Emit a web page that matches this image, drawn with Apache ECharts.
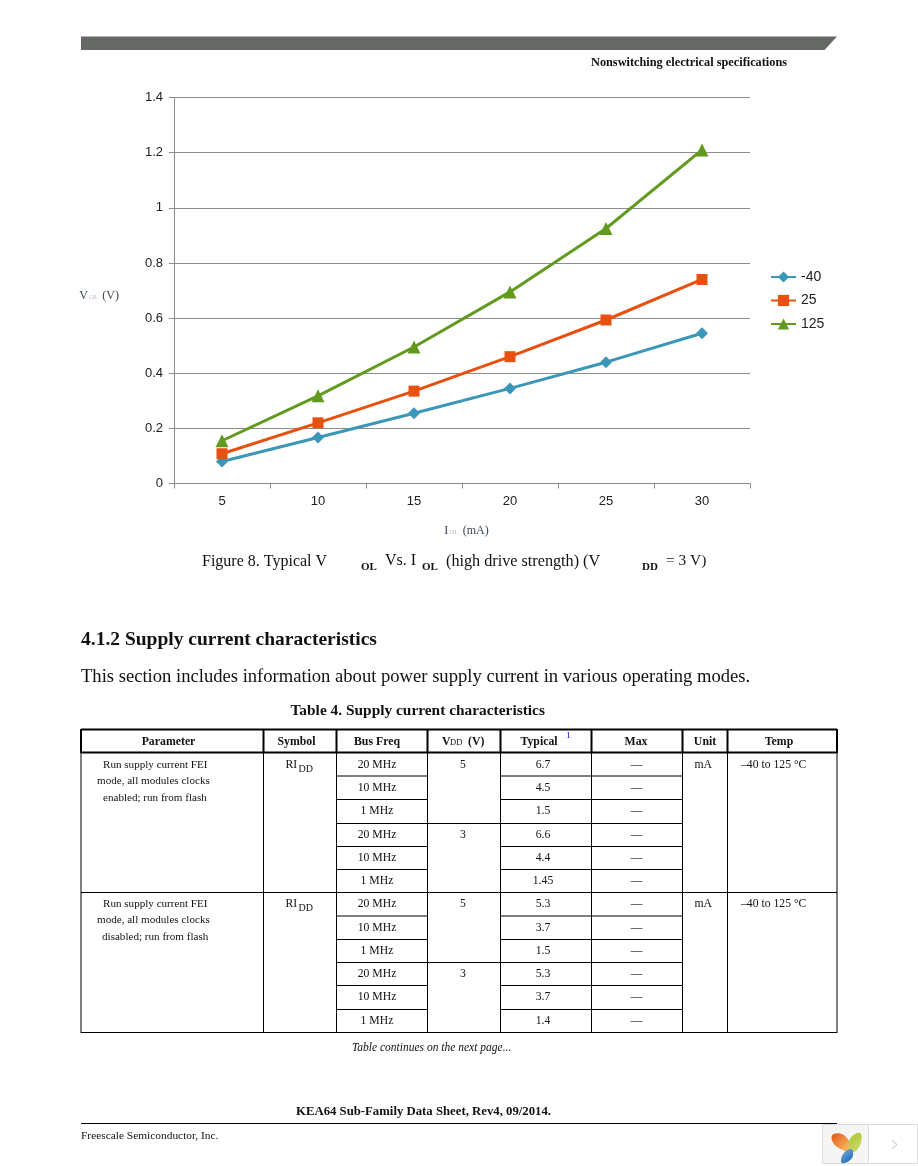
<!DOCTYPE html>
<html>
<head>
<meta charset="utf-8">
<title>Typical VOL vs IOL</title>
<style>
  html, body { margin: 0; padding: 0; background: #fff; }
  #chart { width: 918px; height: 1166px; }
</style>
<script src="https://cdn.jsdelivr.net/npm/echarts@6/dist/echarts.min.js"></script>
</head>
<body>
<div id="chart"></div>
<script>
// chart data
const iolValues = ['5', '10', '15', '20', '25', '30'];
const seriesNames = ['-40', '25', '125'];
const tempMinus40 = [0.08, 0.167, 0.255, 0.345, 0.44, 0.545];
const temp25 = [0.108, 0.22, 0.335, 0.46, 0.593, 0.74];
const temp125 = [0.155, 0.318, 0.495, 0.695, 0.925, 1.21];

// table text
const tableHeaders = ['Parameter', 'Symbol', 'Bus Freq', 'Typical', 'Max', 'Unit', 'Temp'];
const busFreq = ['20 MHz', '10 MHz', '1 MHz', '20 MHz', '10 MHz', '1 MHz', '20 MHz', '10 MHz', '1 MHz', '20 MHz', '10 MHz', '1 MHz'];
const typical = ['6.7', '4.5', '1.5', '6.6', '4.4', '1.45', '5.3', '3.7', '1.5', '5.3', '3.7', '1.4'];
const paramEnabled = ['Run supply current FEI', 'mode, all modules clocks', 'enabled; run from flash'];
const paramDisabled = ['Run supply current FEI', 'mode, all modules clocks', 'disabled; run from flash'];

// page layout
const colX = [81, 263.5, 336.5, 427.5, 500.5, 591.5, 682.5, 727.5, 837];
const rowY = [752.5, 776, 799.5, 823.5, 846.5, 869.5, 892.5, 916, 939.5, 962.5, 985.5, 1009.5, 1032.5];
const headerCenters = [168.5, 296.5, 377, 539, 636, 705, 779];
const rowCenters = [764, 787, 810, 834, 857, 880, 903, 927, 950, 973, 996, 1020];
const serif = '"Liberation Serif", serif';
const sans = '"Liberation Sans", sans-serif';

const graphics = [];

function txt(x, y, text, size, opts) {
    const o = opts || {};
    graphics.push({
        type: 'text',
        silent: true,
        style: {
            x: x, y: y + 1, text: text,
            font: (o.italic ? 'italic ' : '') + (o.bold ? 'bold ' : '') + size + 'px ' + serif,
            fill: o.color || '#111',
            textAlign: o.align || 'left',
            textVerticalAlign: 'middle'
        }
    });
}

function line(x1, y1, x2, y2, w, color) {
    graphics.push({
        type: 'line',
        silent: true,
        shape: { x1: x1, y1: y1, x2: x2, y2: y2 },
        style: { stroke: color || '#000', lineWidth: w || 1 }
    });
}

function leaf(points, c1, c2) {
    graphics.push({
        type: 'polygon',
        silent: true,
        shape: { points: points, smooth: 0.45 },
        style: {
            fill: {
                type: 'linear', x: 0, y: 0, x2: 1, y2: 1,
                colorStops: [{ offset: 0, color: c1 }, { offset: 1, color: c2 }]
            }
        }
    });
}

// header band
graphics.push({
    type: 'polygon',
    silent: true,
    shape: { points: [[81, 36.5], [837, 36.5], [824.5, 50], [81, 50]] },
    style: { fill: '#666865' }
});
txt(591, 62, 'Nonswitching electrical specifications', 12.3, { bold: true });

// caption
txt(202, 561, 'Figure 8. Typical V', 16);
txt(361, 566, 'OL', 11, { bold: true });
txt(385, 560, 'Vs. I', 16);
txt(422, 566, 'OL', 11, { bold: true });
txt(446, 561, '(high drive strength) (V', 16.2);
txt(642, 566, 'DD', 11, { bold: true });
txt(666, 560, '= 3 V)', 15.4);

// section text
txt(81, 639, '4.1.2 Supply current characteristics', 19.5, { bold: true });
txt(81, 676, 'This section includes information about power supply current in various operating modes.', 18.6);
txt(290.5, 710, 'Table 4. Supply current characteristics', 15.4, { bold: true });

// table rules
line(81, 729.5, 837, 729.5, 2);
line(81, rowY[0], 837, rowY[0], 2);
colX.forEach(function (x) {
    line(x, 729, x, 753, 2);
    line(x, 753, x, 1033, 1);
});
rowY.slice(1).forEach(function (y, i) {
    const full = i === 5 || i === 11;
    const half = i === 2 || i === 8;
    if (full) {
        line(81, y, 837, y, 1);
    } else {
        line(colX[2], y, half ? colX[6] : colX[3], y, 1);
        line(colX[4], y, colX[6], y, 1);
    }
});

// table header text
tableHeaders.forEach(function (h, i) {
    txt(headerCenters[i], 740.5, h, 11.8, { bold: true, align: 'center' });
});
txt(442, 740.5, 'V', 11.8, { bold: true });
txt(450, 741.5, 'DD', 8.5);
txt(468, 740.5, '(V)', 11.8, { bold: true });
txt(566, 735, '1', 9, { color: '#0000e0' });

// table body text
busFreq.forEach(function (f, i) {
    txt(377, rowCenters[i], f, 11.7, { align: 'center' });
    txt(543, rowCenters[i], typical[i], 11.7, { align: 'center' });
    txt(636.5, rowCenters[i], '—', 11.7, { align: 'center' });
});
[0, 6].forEach(function (r, k) {
    const top = rowCenters[r];
    const lines = k === 0 ? paramEnabled : paramDisabled;
    const lefts = k === 0 ? [103, 97, 103] : [103, 97, 102];
    lines.forEach(function (l, j) {
        txt(lefts[j], top + j * 16.5, l, 11.1);
    });
    txt(285.5, top, 'RI', 11.7);
    txt(298.5, top + 4, 'DD', 10);
    txt(463, top, '5', 11.7, { align: 'center' });
    txt(463, rowCenters[r + 3], '3', 11.7, { align: 'center' });
    txt(694.5, top, 'mA', 11.7);
    txt(741, top, '–40 to 125 °C', 11.7);
});

// footer
txt(352, 1047, 'Table continues on the next page...', 11.5, { italic: true });
txt(296, 1111, 'KEA64 Sub-Family Data Sheet, Rev4, 09/2014.', 12.75, { bold: true });
line(81, 1123.5, 837, 1123.5, 1);
txt(81, 1135, 'Freescale Semiconductor, Inc.', 11.4);

// viewer widget in the corner
graphics.push({
    type: 'rect',
    silent: true,
    shape: { x: 822.5, y: 1124.5, width: 46, height: 39 },
    style: { fill: '#f5f5f5', stroke: '#dcdcdc', lineWidth: 1 }
});
graphics.push({
    type: 'rect',
    silent: true,
    shape: { x: 868.5, y: 1124.5, width: 49, height: 39 },
    style: { fill: '#ffffff', stroke: '#dcdcdc', lineWidth: 1 }
});
leaf([[832, 1135.5], [844, 1135], [852, 1150.5], [837, 1147]], '#e2521a', '#fbd16a');
leaf([[860, 1133], [860.5, 1144], [853, 1152], [849.5, 1140]], '#a9c52f', '#d2dc78');
leaf([[851.5, 1149], [852, 1158], [842, 1163], [843, 1154]], '#7fb4e0', '#0f5fae');
graphics.push({
    type: 'polyline',
    silent: true,
    shape: { points: [[892, 1140], [897, 1144.5], [892, 1149]] },
    style: { stroke: '#bdbdbd', lineWidth: 1, fill: 'none' }
});

const chart = echarts.init(document.getElementById('chart'), null, { renderer: 'canvas' });

const axisColor = '#8c8c8c';
const subStyle = {
    m: { fontFamily: serif, fontSize: 12, color: '#3c4656' },
    s: { fontFamily: serif, fontSize: 7, color: '#b8bec8', padding: [4, 1, 0, 1] }
};

chart.setOption({
    animation: false,
    backgroundColor: '#ffffff',
    textStyle: { fontFamily: sans },
    grid: { left: 174, right: 168, top: 97.5, height: 386 },
    legend: {
        left: 770,
        top: 270,
        padding: 0,
        orient: 'vertical',
        itemWidth: 25,
        itemHeight: 14,
        itemGap: 9.5,
        data: seriesNames,
        textStyle: { fontFamily: sans, fontSize: 14, color: '#222' }
    },
    xAxis: {
        type: 'category',
        data: iolValues,
        name: '{m|I}{s|OL}{m| (mA)}',
        nameLocation: 'middle',
        nameGap: 41,
        nameTextStyle: { rich: subStyle, padding: [0, 0, 0, 9] },
        axisLine: { lineStyle: { color: axisColor } },
        axisTick: { show: true, length: 5, lineStyle: { color: axisColor } },
        axisLabel: { fontFamily: sans, fontSize: 13, color: '#222', margin: 11 },
        splitLine: { show: false }
    },
    yAxis: {
        type: 'value',
        min: 0,
        max: 1.4,
        interval: 0.2,
        name: '{m|V}{s|OL}{m| (V)}',
        nameLocation: 'middle',
        nameRotate: 0,
        nameGap: 55,
        nameTextStyle: { rich: subStyle, padding: [10, 0, 0, 0] },
        axisLine: { show: true, lineStyle: { color: axisColor } },
        axisTick: { show: true, length: 5, lineStyle: { color: axisColor } },
        axisLabel: { fontFamily: sans, fontSize: 13, color: '#222', margin: 11 },
        splitLine: { lineStyle: { color: axisColor, width: 1 } }
    },
    series: [
        {
            name: seriesNames[0], type: 'line', data: tempMinus40,
            symbol: 'diamond', symbolSize: 12,
            lineStyle: { color: '#3b97b8', width: 3 },
            itemStyle: { color: '#3b97b8' }
        },
        {
            name: seriesNames[1], type: 'line', data: temp25,
            symbol: 'rect', symbolSize: 11,
            lineStyle: { color: '#e8500f', width: 3 },
            itemStyle: { color: '#e8500f' }
        },
        {
            name: seriesNames[2], type: 'line', data: temp125,
            symbol: 'triangle', symbolSize: 13,
            lineStyle: { color: '#619a1f', width: 3 },
            itemStyle: { color: '#619a1f' }
        }
    ],
    graphic: { elements: graphics }
});
</script>
</body>
</html>
